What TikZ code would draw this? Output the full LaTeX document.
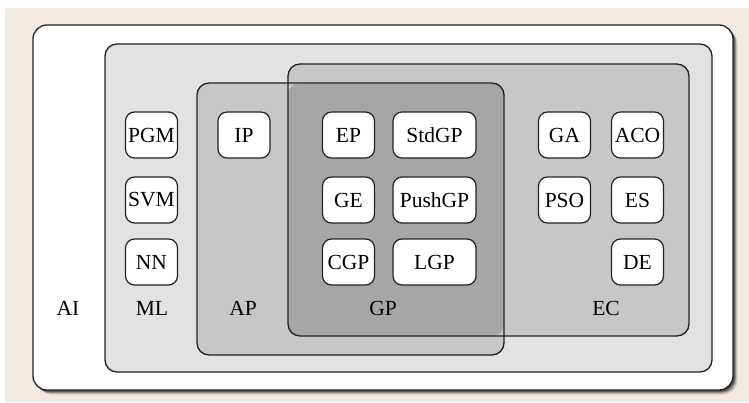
\documentclass[tikz,border=0pt]{standalone}
\usepackage{fontspec}
\setmainfont{Liberation Serif}
\usetikzlibrary{positioning}
\definecolor{paper}{HTML}{F2E9E0}
\definecolor{mlfill}{HTML}{E2E2E2}
\definecolor{setfill}{HTML}{C6C7C6}
\definecolor{gpfill}{HTML}{A5A6A5}
\definecolor{edge}{HTML}{222222}
\tikzset{
  area/.style={draw=edge, line width=1.3pt, rounded corners=12pt},
  method/.style={draw=edge, line width=1.2pt, fill=white, rounded corners=9pt,
    minimum height=46pt, inner sep=0pt, font=\fontsize{21.5}{23}\selectfont},
  narrow/.style={method, minimum width=52pt},
  wide/.style={method, minimum width=83pt},
  tag/.style={font=\fontsize{21.5}{23}\selectfont, inner sep=0pt}
}
\begin{document}
\begin{tikzpicture}[x=1pt, y=-1pt]
\useasboundingbox (0,0) rectangle (749,403);
% page background
\fill[paper] (5,8) rectangle (749,402);
% soft drop shadow of the outer frame
\foreach \o/\a in {4.5/0.10, 3.5/0.18, 2.5/0.30, 1.5/0.35}
  \fill[black, opacity=\a, rounded corners=14pt] (33+\o,25+\o) rectangle (733+\o,390+\o);
% AI and ML frames
\draw[area, fill=white, rounded corners=14pt] (33,25) rectangle (733,390);
\draw[area, fill=mlfill] (105,44) rectangle (712,372);
% AP and EC sets, with GP as their overlap
\fill[setfill, rounded corners=12pt] (197,83) rectangle (504,355);
\fill[setfill, rounded corners=12pt] (288,64) rectangle (689,336);
\fill[gpfill, rounded corners=12pt] (288,83) rectangle (504,336);
\draw[area] (197,83) rectangle (504,355);
\draw[area] (288,64) rectangle (689,336);
% ML methods
\node[narrow] (pgm) at (151.5,135) {PGM};
\node[narrow] (svm) at (151.5,200) {SVM};
\node[narrow] (nn)  at (151.5,262) {NN};
% AP methods
\node[narrow] (ip) at (244,135) {IP};
% GP methods
\node[narrow] (ep)  at (348.5,135) {EP};
\node[narrow] (ge)  at (348.5,200) {GE};
\node[narrow] (cgp) at (348.5,262) {CGP};
\node[wide] (stdgp)  at (434.5,135) {StdGP};
\node[wide] (pushgp) at (434.5,200) {PushGP};
\node[wide] (lgp)    at (434.5,262) {LGP};
% EC methods
\node[narrow] (ga)  at (564.5,135) {GA};
\node[narrow] (aco) at (637.5,135) {ACO};
\node[narrow] (pso) at (564.5,200) {PSO};
\node[narrow] (es)  at (637.5,200) {ES};
\node[narrow] (de)  at (637.5,262) {DE};
% set labels
\node[tag] (ai) at (68,308) {AI};
\node[tag] (ml) at (152,308) {ML};
\node[tag] (ap) at (243,308) {AP};
\node[tag] (gp) at (383,308) {GP};
\node[tag] (ec) at (606,308) {EC};
\end{tikzpicture}
\end{document}
